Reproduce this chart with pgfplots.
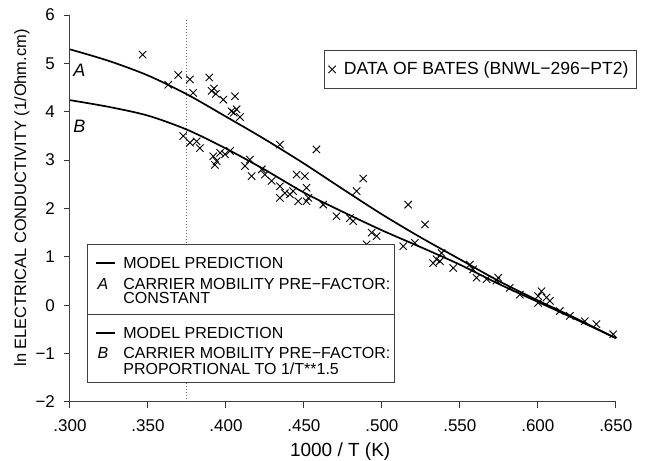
\documentclass[border=0pt]{standalone}
\usepackage{fontspec}
\setmainfont{Liberation Sans}
\usepackage{pgfplots}
\pgfplotsset{compat=1.18}
\begin{document}
\begin{tikzpicture}
\begin{axis}[
  scale only axis, width=272.9pt, height=193.5pt,
  xmin=0.3, xmax=0.65, ymin=-2, ymax=6,
  axis x line*=bottom, axis y line*=left,
  axis line style={black!75, line width=0.5pt, -},
  xtick={0.30,0.35,0.40,0.45,0.50,0.55,0.60,0.65},
  xticklabels={.300,.350,.400,.450,.500,.550,.600,.650},
  ytick={-2,-1,0,1,2,3,4,5,6},
  yticklabels={−2,−1,0,1,2,3,4,5,6},
  tick align=outside, major tick length=3pt,
  tick style={black!80, line width=0.5pt},
  /pgf/number format/assume math mode=true,
  ticklabel style={font=\fontsize{8.5}{10}\selectfont},
  xticklabel style={yshift=-2.5pt},
  yticklabel style={xshift=-1pt},
  xlabel={1000 / T (K)},
  xlabel style={font=\fontsize{9.5}{11}\selectfont, at={(0.495,-0.128)}, anchor=center},
  ylabel={ln ELECTRICAL CONDUCTIVITY (1/Ohm.cm)},
  ylabel style={font=\fontsize{8.2}{10}\selectfont, at={(-0.088,0.527)}, anchor=center},
  clip=false,
  legend style={at={(0.4654,0.9096)}, anchor=north west, draw=black!75, line width=0.5pt,
    font=\fontsize{8.8}{10}\selectfont, inner xsep=2pt, inner ysep=3.5pt},
  legend cell align=left,
]
% dotted reference line
\addplot[densely dotted, black!60, line width=0.5pt, forget plot] coordinates {(0.375,-2) (0.375,5.9)};
% model A
\addplot[smooth, line width=0.85pt, forget plot] coordinates {
(0.300,5.29) (0.325,5.05) (0.350,4.75) (0.375,4.36) (0.400,3.90) (0.425,3.43)
(0.450,2.93) (0.475,2.40) (0.500,1.88) (0.525,1.40) (0.550,0.95) (0.575,0.50)
(0.600,0.10) (0.625,-0.28) (0.650,-0.68)};
% model B
\addplot[smooth, line width=0.85pt, forget plot] coordinates {
(0.300,4.24) (0.325,4.10) (0.350,3.92) (0.375,3.63) (0.400,3.24) (0.425,2.80)
(0.450,2.33) (0.475,1.93) (0.500,1.55) (0.525,1.20) (0.550,0.84) (0.575,0.44)
(0.600,0.07) (0.625,-0.30) (0.650,-0.68)};
% data of Bates
\addplot[only marks, mark=x, mark size=2.6pt, mark options={line width=0.45pt}] table {
x y
0.3466 5.18
0.3694 4.76
0.3630 4.56
0.3769 4.67
0.3790 4.39
0.3893 4.71
0.3908 4.43
0.3923 4.48
0.3936 4.37
0.3983 4.25
0.4058 4.32
0.4036 4.01
0.4068 4.05
0.4050 3.98
0.4090 3.89
0.4346 3.32
0.4580 3.22
0.4838 2.36
0.4880 2.62
0.3726 3.50
0.3769 3.36
0.3812 3.39
0.3833 3.25
0.3919 3.08
0.3940 2.98
0.3962 3.15
0.3994 3.12
0.3929 2.90
0.4026 3.19
0.4122 2.88
0.4154 3.01
0.4165 2.67
0.4230 2.81
0.4250 2.70
0.4293 2.57
0.4346 2.46
0.4378 2.32
0.4410 2.29
0.4431 2.36
0.4453 2.70
0.4506 2.67
0.4517 2.43
0.4528 2.22
0.4346 2.22
0.4463 2.15
0.4517 2.15
0.4624 2.08
0.4709 1.84
0.4795 1.80
0.4816 1.74
0.5169 2.08
0.5276 1.67
0.4934 1.50
0.4966 1.43
0.4902 1.26
0.5137 1.22
0.5212 1.29
0.5383 1.08
0.5372 0.91
0.5329 0.87
0.5350 0.95
0.5457 0.77
0.5564 0.84
0.5585 0.74
0.5607 0.57
0.5671 0.54
0.5735 0.51
0.5746 0.57
0.5820 0.36
0.5885 0.22
0.6002 0.19
0.6024 0.29
0.6056 0.16
0.6002 0.05
0.6077 0.09
0.6141 -0.12
0.6205 -0.22
0.6301 -0.33
0.6376 -0.39
0.6483 -0.60
};
\addlegendentry{\hspace{2pt}DATA OF BATES (BNWL−296−PT2)}
\end{axis}
% curve labels
\node[font=\fontsize{9}{10}\selectfont\itshape] at (4.7pt,166pt) {A};
\node[font=\fontsize{9}{10}\selectfont\itshape] at (4.7pt,137.7pt) {B};
% lower-left legend
\draw[black!75, line width=0.5pt, fill=white] (9pt,9.5pt) rectangle (162.5pt,78.5pt);
\draw[black!75, line width=0.5pt] (9pt,43.5pt) -- (162.5pt,43.5pt);
\begin{scope}[every node/.style={font=\fontsize{8}{9}\selectfont, inner sep=0pt, anchor=base west}]
\draw[line width=0.6pt] (13pt,69.5pt) -- (22.5pt,69.5pt);
\node at (26.5pt,66.65pt) {MODEL PREDICTION};
\node[anchor=base] at (16.5pt,56.15pt) {\itshape A};
\node at (26.5pt,56.15pt) {CARRIER MOBILITY PRE−FACTOR:};
\node at (26.5pt,49.15pt) {CONSTANT};
\draw[line width=0.6pt] (13pt,34.5pt) -- (22.5pt,34.5pt);
\node at (26.5pt,31.65pt) {MODEL PREDICTION};
\node[anchor=base] at (16.5pt,21.65pt) {\itshape B};
\node at (26.5pt,21.65pt) {CARRIER MOBILITY PRE−FACTOR:};
\node at (26.5pt,13.65pt) {PROPORTIONAL TO 1/T**1.5};
\end{scope}
\pgfresetboundingbox
\path (-35pt,-29.5pt) rectangle (290pt,201pt);
\end{tikzpicture}
\end{document}
